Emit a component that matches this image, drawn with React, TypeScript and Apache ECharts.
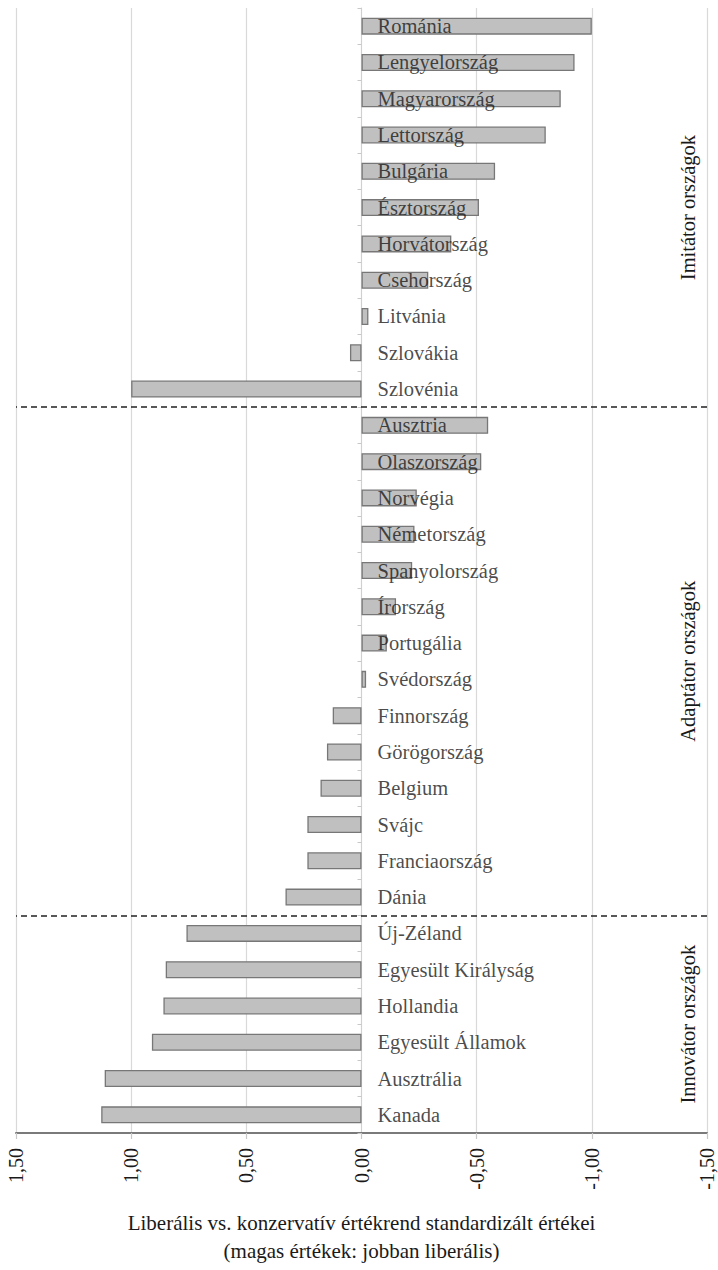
import React, { useEffect, useRef } from "react";
import * as echarts from "echarts";

const countries: string[] = [
  "Románia", "Lengyelország", "Magyarország", "Lettország", "Bulgária", "Észtország",
  "Horvátország", "Csehország", "Litvánia", "Szlovákia", "Szlovénia",
  "Ausztria", "Olaszország", "Norvégia", "Németország", "Spanyolország", "Írország",
  "Portugália", "Svédország", "Finnország", "Görögország", "Belgium", "Svájc",
  "Franciaország", "Dánia",
  "Új-Zéland", "Egyesült Királyság", "Hollandia", "Egyesült Államok", "Ausztrália", "Kanada",
];

const values: number[] = [
  -1.0, -0.925, -0.865, -0.8, -0.58, -0.51, -0.39, -0.29, -0.03, 0.05, 1.0,
  -0.55, -0.52, -0.24, -0.23, -0.22, -0.15, -0.11, -0.02, 0.125, 0.15, 0.178, 0.235,
  0.235, 0.33,
  0.76, 0.85, 0.86, 0.91, 1.115, 1.13,
];

const groups = [
  { name: "Imitátor országok", from: 0, to: 11 },
  { name: "Adaptátor országok", from: 11, to: 25 },
  { name: "Innovátor országok", from: 25, to: 31 },
];
const separators: number[] = [11, 25];

const FONT = "'Liberation Serif', 'Times New Roman', serif";
const TEXT = "#1a1a1a";

export default function App() {
  const ref = useRef<HTMLDivElement>(null);
  useEffect(() => {
    if (!ref.current) return;
    const chart = echarts.init(ref.current, null, { renderer: "svg" });
    const option: any = {
      animation: false,
      backgroundColor: "#ffffff",
      grid: { left: 16, right: 11, top: 8, bottom: 128, containLabel: false },
      xAxis: {
        type: "value",
        inverse: true,
        min: -1.5,
        max: 1.5,
        interval: 0.5,
        axisLine: { show: true, onZero: false, lineStyle: { color: "#7a7a7a", width: 2 } },
        axisTick: { show: true, length: 6, lineStyle: { color: "#c8c8c8", width: 1.2 } },
        splitLine: { show: true, lineStyle: { color: "#d9d9d9", width: 1.2 } },
        axisLabel: {
          rotate: 90,
          margin: 15,
          color: TEXT,
          fontFamily: FONT,
          fontSize: 20,
          formatter: (v: number) => (Math.abs(v) < 1e-9 ? "0,00" : v.toFixed(2).replace(".", ",")),
        },
        name: "Liberális vs. konzervatív értékrend standardizált értékei\n(magas értékek: jobban liberális)",
        nameLocation: "middle",
        nameGap: 76,
        nameMoveOverlap: false,
        nameTextStyle: { color: TEXT, fontFamily: FONT, fontSize: 21, lineHeight: 28, verticalAlign: "top" },
      },
      yAxis: [
        {
          type: "category",
          data: countries,
          inverse: true,
          axisLine: { show: true, onZero: true, lineStyle: { color: "#d0d0d0", width: 1 } },
          axisTick: { show: true, length: 4, lineStyle: { color: "#c8c8c8" } },
          axisLabel: { show: false },
          splitLine: { show: false },
        },
        {
          type: "value",
          min: 0,
          max: 31,
          inverse: true,
          show: false,
          position: "right",
        },
      ],
      series: [
        {
          type: "bar",
          data: values,
          barWidth: 17,
          itemStyle: { color: "#c0c0c0", borderColor: "#777777", borderWidth: 1.3 },
          z: 2,
        },
        {
          type: "scatter",
          yAxisIndex: 0,
          symbolSize: 0,
          data: countries.map((c) => ({ name: c, value: [0, c] })),
          label: {
            show: true,
            position: "right",
            distance: 16,
            formatter: "{b}",
            color: TEXT,
            fontFamily: FONT,
            fontSize: 20.5,
          },
          z: 5,
          silent: true,
        },
        {
          type: "scatter",
          yAxisIndex: 1,
          symbolSize: 0,
          data: [[0, 0]],
          silent: true,
          markLine: {
            symbol: "none",
            silent: true,
            label: { show: false },
            lineStyle: { color: "#222222", type: [6, 4], width: 1.6 },
            data: separators.map((s) => ({ yAxis: s })),
          },
        },
      ],
    };
    chart.setOption(option);
    const xPos = 688;
    const graphics = groups.map((g) => {
      const y = chart.convertToPixel({ yAxisIndex: 1 }, (g.from + g.to) / 2) as number;
      return {
        type: "text",
        x: xPos,
        y: y,
        rotation: Math.PI / 2,
        style: {
          text: g.name,
          fill: TEXT,
          font: `20.5px ${FONT}`,
          align: "center",
          verticalAlign: "middle",
        },
      };
    });
    chart.setOption({ graphic: graphics });
    return () => chart.dispose();
  }, []);
  return (
    <div
      ref={ref}
      style={{ position: "absolute", left: 0, top: 0, width: 718, height: 1270 }}
    />
  );
}
